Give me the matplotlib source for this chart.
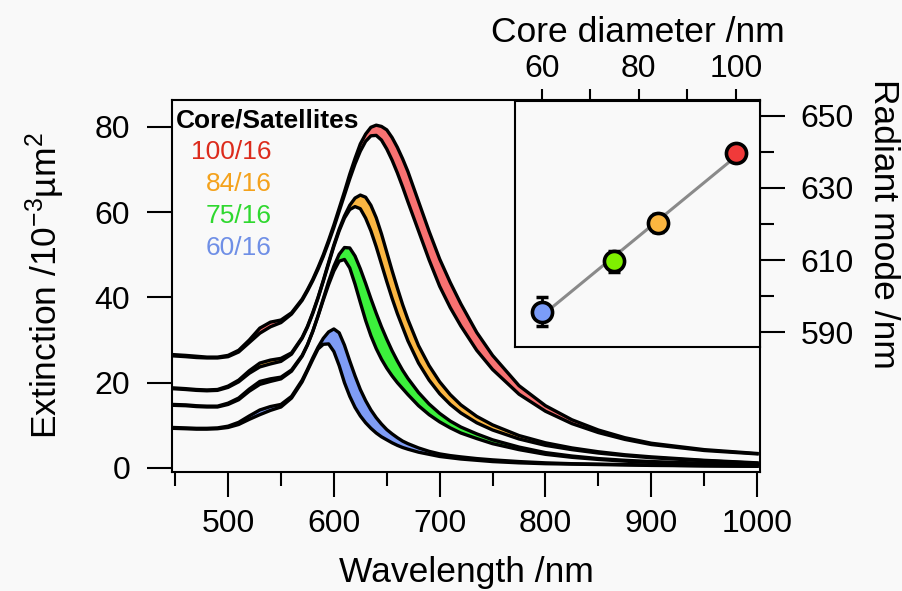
import numpy as np
import matplotlib.pyplot as plt

plt.rcParams.update({
    "font.family": ["Liberation Sans", "DejaVu Sans"],
    "mathtext.fontset": "custom",
    "mathtext.rm": "Liberation Sans",
    "mathtext.it": "Liberation Sans:italic",
    "mathtext.bf": "Liberation Sans:bold",
})

BG = "#f9f9f9"

# extinction spectra, upper / lower bound of each band (10^-3 um^2)
wavelength = [447, 460, 470, 480, 490, 500, 510, 520, 530, 540, 550, 560, 570, 575,
              580, 585, 590, 595, 600, 605, 610, 615, 620, 625, 630, 635, 640, 645,
              650, 655, 660, 665, 670, 680, 690, 700, 710, 720, 735, 750, 775, 800,
              825, 850, 875, 900, 950, 1000]

ext_100_hi = [26.6, 26.4, 26.2, 26.0, 26.0, 26.4, 27.6, 30.0, 32.8, 34.2, 34.7, 36.4, 39.6, 41.8,
              44.2, 47.0, 50.0, 53.4, 57.0, 60.9, 64.8, 68.9, 72.6, 76.0, 78.3, 79.9, 80.4, 80.1,
              79.3, 77.5, 75.2, 72.5, 69.5, 62.5, 55.5, 49.0, 43.5, 38.5, 31.8, 26.4, 19.3, 14.6,
              11.3, 8.9, 7.1, 5.8, 4.3, 3.4]
ext_100_lo = [26.3, 26.1, 25.9, 25.8, 25.8, 26.1, 27.2, 29.4, 31.6, 33.1, 34.1, 36.1, 39.3, 41.5,
              43.9, 46.6, 49.6, 52.9, 56.4, 60.2, 64.0, 67.8, 71.3, 74.3, 76.6, 77.9, 78.0, 76.9,
              74.8, 72.2, 69.2, 65.9, 62.4, 55.6, 48.8, 42.6, 37.6, 33.3, 27.6, 23.1, 17.3, 13.3,
              10.4, 8.3, 6.7, 5.5, 4.1, 3.3]

ext_84_hi = [18.8, 18.6, 18.4, 18.3, 18.4, 19.2, 20.6, 22.8, 24.6, 25.3, 25.7, 27.0, 30.6, 33.2,
             36.4, 40.0, 44.0, 48.2, 52.3, 56.0, 59.1, 61.6, 63.3, 64.0, 63.5, 61.6, 58.7, 54.9,
             50.6, 46.3, 42.2, 38.3, 34.8, 28.7, 24.0, 20.2, 17.2, 14.8, 12.1, 10.1, 7.6, 5.9,
             4.7, 3.8, 3.1, 2.6, 1.8, 1.2]
ext_84_lo = [18.6, 18.4, 18.2, 18.1, 18.2, 18.9, 20.2, 22.2, 23.7, 24.4, 25.0, 26.7, 30.4, 33.0,
             36.2, 39.8, 43.8, 47.9, 52.0, 55.6, 58.6, 60.6, 61.3, 60.8, 58.6, 55.6, 51.9, 47.8,
             43.7, 39.8, 36.2, 33.0, 29.8, 24.6, 20.6, 17.4, 14.9, 12.9, 10.6, 8.9, 6.8, 5.3,
             4.3, 3.5, 2.9, 2.4, 1.7, 1.1]

ext_75_hi = [14.9, 14.8, 14.6, 14.5, 14.5, 15.2, 16.4, 18.5, 20.3, 20.9, 21.3, 23.0, 26.4, 28.9,
             32.0, 35.7, 39.7, 43.7, 47.3, 50.1, 51.7, 51.6, 49.7, 46.7, 43.3, 39.7, 36.3, 33.1,
             30.2, 27.5, 25.1, 22.9, 21.0, 17.7, 15.0, 12.8, 11.0, 9.6, 8.0, 6.6, 4.9, 3.6,
             2.8, 2.2, 1.8, 1.5, 1.1, 0.8]
ext_75_lo = [14.7, 14.6, 14.4, 14.3, 14.3, 14.9, 16.0, 18.0, 19.6, 20.3, 20.9, 22.7, 26.2, 28.8,
             32.0, 35.6, 39.4, 43.0, 46.2, 48.5, 48.9, 46.9, 43.1, 38.8, 34.6, 31.0, 28.0, 25.5,
             23.4, 21.6, 20.0, 18.6, 17.2, 14.6, 12.5, 10.8, 9.4, 8.2, 6.9, 5.7, 4.3, 3.2,
             2.5, 2.0, 1.6, 1.3, 1.0, 0.8]

ext_60_hi = [9.5, 9.4, 9.3, 9.3, 9.4, 9.8, 10.7, 12.2, 13.6, 14.4, 14.9, 16.8, 20.6, 23.1,
             25.8, 28.3, 30.4, 31.9, 32.6, 31.7, 28.8, 25.1, 21.6, 18.4, 15.8, 13.6, 11.8, 10.3,
             9.0, 8.0, 7.1, 6.3, 5.7, 4.7, 3.9, 3.3, 2.9, 2.6, 2.2, 1.9, 1.5, 1.2,
             1.0, 0.9, 0.8, 0.7, 0.5, 0.4]
ext_60_lo = [9.3, 9.2, 9.1, 9.1, 9.2, 9.5, 10.2, 11.4, 12.5, 13.5, 14.3, 16.4, 20.2, 22.8,
             25.4, 27.9, 29.0, 29.1, 27.3, 24.0, 20.0, 16.8, 14.2, 12.2, 10.6, 9.3, 8.2, 7.3,
             6.6, 5.9, 5.3, 4.8, 4.4, 3.7, 3.2, 2.7, 2.4, 2.1, 1.8, 1.5, 1.2, 1.0,
             0.9, 0.8, 0.7, 0.6, 0.5, 0.4]

labels = ["100/16", "84/16", "75/16", "60/16"]
band_fill = ["#f87272", "#fbb642", "#3cf03c", "#7f9cf5"]
label_col = ["#dc2b1c", "#f4a21c", "#2fd82f", "#6f8fe6"]

# inset: radiant mode vs core diameter
core_diam = [60, 75, 84, 100]
radiant_mode = [595.7, 609.6, 620.4, 639.6]
radiant_err = [4.0, 3.0, 2.5, 1.5]
dot_col = ["#7b9cf8", "#7ff000", "#fbb640", "#f03a3a"]

fig = plt.figure(figsize=(9.02, 5.91), dpi=100, facecolor=BG)
ax = fig.add_axes([0.1907, 0.2014, 0.6519, 0.6294], facecolor=BG)

bands = [(ext_100_lo, ext_100_hi), (ext_84_lo, ext_84_hi),
         (ext_75_lo, ext_75_hi), (ext_60_lo, ext_60_hi)]
for (lo, hi), fc in zip(bands, band_fill):
    ax.fill_between(wavelength, lo, hi, color=fc, lw=0)
    ax.plot(wavelength, lo, color="k", lw=2.4, solid_joinstyle="round")
    ax.plot(wavelength, hi, color="k", lw=2.4, solid_joinstyle="round")

ax.set_xlim(447, 1002.8)
ax.set_ylim(-0.94, 86.3)
ax.set_xticks(np.arange(500, 1001, 100))
ax.set_xticks(np.arange(450, 1000, 100), minor=True)
ax.set_yticks(np.arange(0, 81, 20))
ax.tick_params(axis="both", which="major", direction="out", length=18, width=1.5,
               labelsize=23)
ax.tick_params(axis="x", which="minor", direction="out", length=10, width=1.5)
ax.tick_params(axis="x", pad=9)
ax.tick_params(axis="y", pad=12)
for s in ax.spines.values():
    s.set_linewidth(1.5)
ax.set_xlabel("Wavelength /nm", fontsize=25.5, labelpad=12)
ax.set_ylabel(r"Extinction /10$^{-3}$µm$^{2}$", fontsize=25.5, labelpad=20)

ax.text(0.007, 0.946, "Core/Satellites", transform=ax.transAxes, fontsize=19,
        fontweight="bold", ha="left", va="center")
for i, (lab, c) in enumerate(zip(labels, label_col)):
    ax.text(0.1696, 0.861 - i * 0.0867, lab, transform=ax.transAxes, fontsize=19,
            color=c, ha="right", va="center")

# inset panel
ins = fig.add_axes([0.571, 0.4129, 0.2716, 0.4162], facecolor=BG)
slope, icept = np.polyfit(core_diam, radiant_mode, 1)
xfit = np.array([core_diam[0], core_diam[-1]])
ins.plot(xfit, slope * xfit + icept, color="#8a8a8a", lw=2.2, zorder=1)
ins.errorbar(core_diam, radiant_mode, yerr=radiant_err, fmt="none", ecolor="k",
             elinewidth=2, capsize=4, capthick=2.5, zorder=2)
for x, y, c in zip(core_diam, radiant_mode, dot_col):
    ins.plot(x, y, "o", ms=14.5, mfc=c, mec="k", mew=2.6, zorder=3)

ins.set_xlim(54.5, 105.0)
ins.set_ylim(585.9, 654.1)
ins.xaxis.tick_top()
ins.xaxis.set_label_position("top")
ins.yaxis.tick_right()
ins.set_xticks([60, 80, 100])
ins.set_xticks([70, 90], minor=True)
ins.set_yticks([590, 610, 630, 650])
ins.set_yticks([600, 620, 640], minor=True)
ins.tick_params(axis="x", which="both", direction="out", length=9, width=1.5,
                labelsize=23, pad=3)
ins.tick_params(axis="y", which="major", direction="out", length=18, width=1.5,
                labelsize=23, pad=11)
ins.tick_params(axis="y", which="minor", direction="out", length=10, width=1.5)
for s in ins.spines.values():
    s.set_linewidth(1.5)
ins.set_xlabel("Core diameter /nm", fontsize=25.5, labelpad=9)
fig.text(884 / 902, 0.621, "Radiant mode /nm", rotation=-90, fontsize=25.5,
         ha="center", va="center")

fig.savefig("out.png", dpi=100, facecolor=BG)
